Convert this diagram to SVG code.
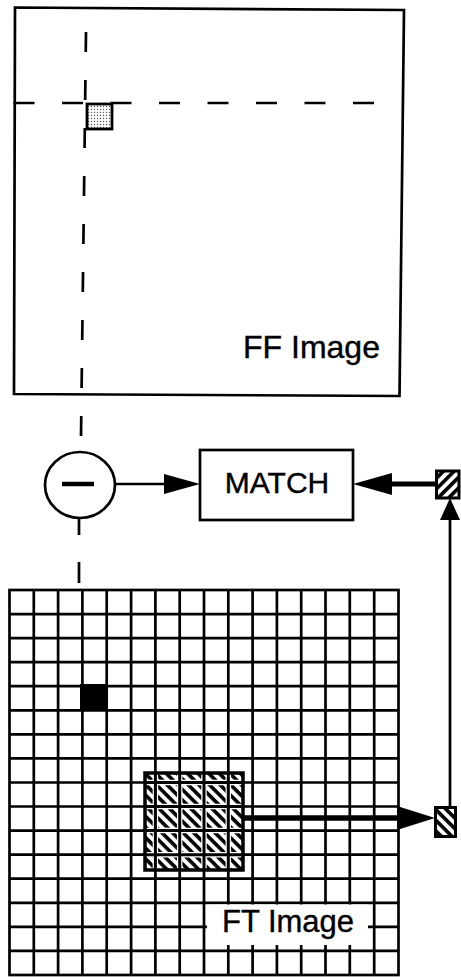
<svg xmlns="http://www.w3.org/2000/svg" width="461" height="977" viewBox="0 0 461 977">
<style>
.ln{stroke:#000;fill:none;stroke-width:2.7}
.dash{stroke:#000;fill:none;stroke-width:2.7;stroke-dasharray:20 28}
.lbl{font-family:"Liberation Sans",Arial,sans-serif;fill:#000;stroke:#000;stroke-width:0.4}
</style>
<defs>
<pattern id="dots" width="3" height="3" patternUnits="userSpaceOnUse">
<rect width="3" height="3" fill="#fff"/>
<circle cx="1.5" cy="1.5" r="0.7" fill="#555"/>
</pattern>
<pattern id="hatchB" width="7.5" height="7.5" patternUnits="userSpaceOnUse" patternTransform="rotate(45)">
<rect width="7.5" height="7.5" fill="#fff"/>
<rect width="7.5" height="3.6" fill="#000"/>
</pattern>
<pattern id="hatchF" width="7.5" height="7.5" patternUnits="userSpaceOnUse" patternTransform="rotate(-45)">
<rect width="7.5" height="7.5" fill="#fff"/>
<rect width="7.5" height="3.6" fill="#000"/>
</pattern>
</defs>
<rect width="461" height="977" fill="#fff"/>

<g id="ff-image">
<polygon points="15,7.5 404,10 399.5,396 14,394" class="ln" stroke-width="2.8"/>
<line x1="13.5" y1="103" x2="380" y2="103" class="ln" style="stroke-dasharray:21 27.5"/>
<line x1="86" y1="32" x2="81" y2="437" class="dash"/>
<rect x="87" y="104" width="25" height="25" fill="url(#dots)" stroke="#000" stroke-width="2.8"/>
<text x="243" y="358" class="lbl" font-size="32">FF Image</text>
</g>

<g id="subtract">
<ellipse cx="80" cy="485" rx="35" ry="33" class="ln"/>
<line x1="62" y1="484" x2="94" y2="484" stroke="#000" stroke-width="4.5"/>
</g>

<g id="match">
<rect x="200" y="450" width="153" height="70" class="ln"/>
<text x="277" y="493" class="lbl" font-size="30" text-anchor="middle">MATCH</text>
</g>

<g id="template-top">
<rect x="436.5" y="471" width="22.5" height="27" fill="url(#hatchF)" stroke="#000" stroke-width="3"/>
</g>

<g id="template-bottom">
<rect x="435.5" y="807.5" width="20" height="29" fill="url(#hatchB)" stroke="#000" stroke-width="3"/>
</g>

<g id="ft-image">
<rect x="9.5" y="590" width="389" height="385" class="ln"/>
<path class="ln" d="M33.8 590V975M58.1 590V975M82.4 590V975M106.7 590V975M131.1 590V975M155.4 590V975M179.7 590V975M204 590V975M228.3 590V975M252.6 590V975M276.9 590V975M301.2 590V975M325.5 590V975M349.8 590V975M374.2 590V975
M9.5 614.1H398.5M9.5 638.1H398.5M9.5 662.2H398.5M9.5 686.2H398.5M9.5 710.3H398.5M9.5 734.4H398.5M9.5 758.4H398.5M9.5 782.5H398.5M9.5 806.5H398.5M9.5 830.6H398.5M9.5 854.7H398.5M9.5 878.7H398.5M9.5 902.8H398.5M9.5 926.8H398.5M9.5 950.9H398.5"/>
<rect x="80" y="684" width="27" height="27" fill="#000"/>
<rect x="207" y="904.5" width="161" height="40.5" fill="#fff"/>
<text x="222" y="932" class="lbl" font-size="31">FT Image</text>
</g>

<g id="window">
<rect x="145" y="773" width="98" height="97" fill="url(#hatchB)"/>
<path d="M155.4 773V870M179.7 773V870M204 773V870M228.3 773V870M145 782.5H243M145 806.5H243M145 830.6H243M145 854.7H243" stroke="#fff" stroke-width="5.5" fill="none"/>
<path d="M155.4 773V870M179.7 773V870M204 773V870M228.3 773V870M145 782.5H243M145 806.5H243M145 830.6H243M145 854.7H243" stroke="#000" stroke-width="3" fill="none"/>
<rect x="145" y="773" width="98" height="97" fill="none" stroke="#000" stroke-width="3.5"/>
</g>

<g id="connectors">
<line x1="79" y1="517" x2="79" y2="535" class="ln"/>
<line x1="79" y1="562" x2="79" y2="583" class="ln"/>
<line x1="115" y1="484" x2="166" y2="484" class="ln"/>
<polygon points="200,484 164,474 164,494" fill="#000"/>
<line x1="390" y1="484" x2="437" y2="484" stroke="#000" stroke-width="5"/>
<polygon points="353,484 392,473 392,495" fill="#000"/>
<line x1="450" y1="518" x2="450" y2="807" class="ln"/>
<polygon points="450,498 440,520 460,520" fill="#000"/>
<line x1="243" y1="818" x2="400" y2="818" stroke="#000" stroke-width="5.5"/>
<polygon points="435,818 397,806 397,830" fill="#000"/>
</g>
</svg>
